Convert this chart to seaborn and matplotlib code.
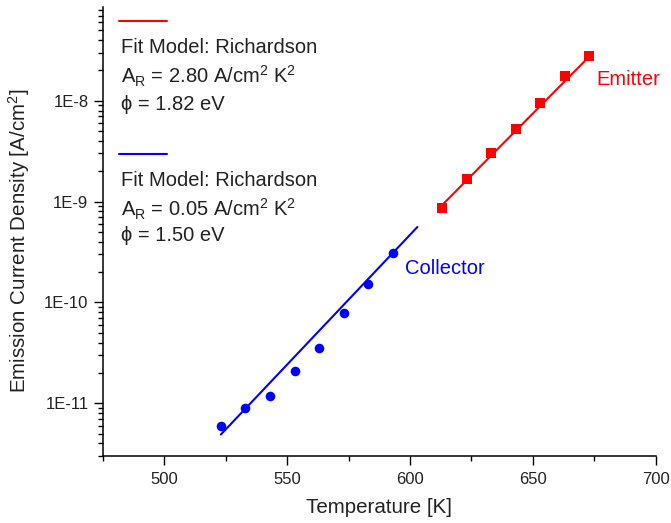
import numpy as np
import pandas as pd
import matplotlib
matplotlib.use("Agg")
import matplotlib.pyplot as plt
import matplotlib.ticker as mticker
from matplotlib.lines import Line2D
import seaborn as sns

# measured points
collector_T = [523, 533, 543, 553, 563, 573, 583, 593]
collector_J = [5.9e-12, 8.9e-12, 1.18e-11, 2.07e-11, 3.57e-11, 7.8e-11, 1.53e-10, 3.07e-10]
emitter_T = [613, 623, 633, 643, 653, 663, 673]
emitter_J = [8.6e-10, 1.67e-9, 3.0e-9, 5.3e-9, 9.6e-9, 1.77e-8, 2.75e-8]

# Richardson fit lines
collector_fit_T = [523, 603]
collector_fit_J = [4.9e-12, 5.6e-10]
emitter_fit_T = [613, 673]
emitter_fit_J = [9.2e-10, 2.75e-8]

y_ticks = [1e-11, 1e-10, 1e-9, 1e-8]
y_ticklabels = ["1E-11", "1E-10", "1E-9", "1E-8"]

RED = "#ff0000"
BLUE = "#0000ff"

sns.set_theme(style="ticks")
plt.rcParams["font.family"] = ["Liberation Sans", "DejaVu Sans"]
plt.rcParams["mathtext.default"] = "regular"

fig = plt.figure(figsize=(6.71, 5.23), dpi=100)
ax = fig.add_axes([0.1535, 0.1281, 0.8237, 0.8585])

coll = pd.DataFrame({"T": collector_T, "J": collector_J})
emit = pd.DataFrame({"T": emitter_T, "J": emitter_J})
coll_fit = pd.DataFrame({"T": collector_fit_T, "J": collector_fit_J})
emit_fit = pd.DataFrame({"T": emitter_fit_T, "J": emitter_fit_J})

sns.lineplot(data=coll_fit, x="T", y="J", color=BLUE, lw=1.5, ax=ax)
sns.lineplot(data=emit_fit, x="T", y="J", color=RED, lw=1.5, ax=ax)
sns.scatterplot(data=coll, x="T", y="J", color=BLUE, marker="o", s=48,
                linewidth=0, ax=ax)
sns.scatterplot(data=emit, x="T", y="J", color=RED, marker="s", s=42,
                linewidth=0, ax=ax)

ax.set_yscale("log")
ax.set_xlim(475, 700)
ax.set_ylim(3e-12, 8.5e-8)

ax.xaxis.set_major_locator(mticker.MultipleLocator(50))
ax.xaxis.set_minor_locator(mticker.MultipleLocator(25))
ax.set_yticks(y_ticks)
ax.set_yticklabels(y_ticklabels)
ax.yaxis.set_minor_locator(mticker.LogLocator(base=10, subs=np.arange(2, 10), numticks=20))
ax.yaxis.set_minor_formatter(mticker.NullFormatter())

ax.tick_params(which="major", direction="out", length=6.5, width=1,
               labelsize=12, color="black", labelcolor="#222222", pad=5)
ax.tick_params(which="minor", direction="out", length=3.3, width=1, color="black")
ax.tick_params(axis="y", which="major", pad=4)

sns.despine(ax=ax)
for s in ("left", "bottom"):
    ax.spines[s].set_linewidth(1.1)
    ax.spines[s].set_color("black")

ax.set_xlabel("Temperature [K]", fontsize=14.8, color="#222222", labelpad=8)
ax.set_ylabel("Emission Current Density [A/cm$^2$]", fontsize=14.8,
              color="#222222")
ax.yaxis.set_label_coords(-0.128, 0.48)

# curve labels
ax.text(597.9, 2.19e-10, "Collector", color=BLUE, fontsize=14.5, va="center", ha="left")
ax.text(675.7, 1.61e-8, "Emitter", color=RED, fontsize=14.5, va="center", ha="left")

# fit legend blocks
tr = ax.transAxes
ax.add_line(Line2D([0.029, 0.116], [0.9688, 0.9688], color=RED, lw=1.5, transform=tr))
ax.add_line(Line2D([0.029, 0.116], [0.6726, 0.6726], color=BLUE, lw=1.5, transform=tr))
block = [
    (0.9094, "Fit Model: Richardson"),
    (0.8448, "A$_R$ = 2.80 A/cm$^2$ K$^2$"),
    (0.7833, "\u03d5 = 1.82 eV"),
    (0.6147, "Fit Model: Richardson"),
    (0.5501, "A$_R$ = 0.05 A/cm$^2$ K$^2$"),
    (0.4922, "\u03d5 = 1.50 eV"),
]
for yy, txt in block:
    ax.text(0.032, yy, txt, transform=tr, fontsize=14.5, color="#222222",
            va="center", ha="left")

plt.savefig("out.png", dpi=100)
